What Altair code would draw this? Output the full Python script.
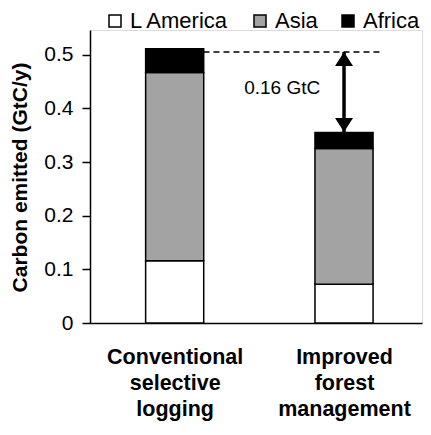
import altair as alt
import pandas as pd

# ---- data ----
categories = ["Conventional selective logging", "Improved forest management"]
cat_lines = [["Conventional", "selective", "logging"], ["Improved", "forest", "management"]]
cat_pos = [1, 3]
regions = ["L America", "Asia", "Africa"]
lam_values = [0.116, 0.072]
asia_values = [0.351, 0.253]
africa_values = [0.044, 0.030]
region_colors = ["#ffffff", "#a3a3a3", "#000000"]
y_ticks = [0, 0.1, 0.2, 0.3, 0.4, 0.5]

# annotation (data units)
annot_text = "0.16 GtC"
dash_x = [1.34, 3.42]
dash_y = 0.505
arrow_x = 3
arrow_top = 0.505
arrow_bottom = 0.356
text_x = 2.27
text_y = 0.437

HALF = 0.343
FONT = "Liberation Sans"
PLOT_W = 332
PLOT_H = 293
Y_MAX = 0.546

rows = []
series = [lam_values, asia_values, africa_values]
for ci, cat in enumerate(categories):
    for ri, reg in enumerate(regions):
        rows.append({
            "cat": cat,
            "region": reg,
            "order": ri,
            "value": series[ri][ci],
            "left": cat_pos[ci] - HALF,
            "right": cat_pos[ci] + HALF,
        })
df = pd.DataFrame(rows)

xscale = alt.Scale(domain=[0, 3.921], nice=False, zero=False)
yscale = alt.Scale(domain=[0, Y_MAX], nice=False)

label_expr = " : ".join(
    f"datum.value == {p} ? {l!r}" for p, l in zip(cat_pos, cat_lines)
) + " : ''"

bars = alt.Chart(df).transform_stack(
    stack="value", groupby=["cat"], as_=["y0", "y1"],
    sort=[alt.SortField("order", order="ascending")]
).mark_bar(stroke="black", strokeWidth=1.5).encode(
    x=alt.X("left:Q", scale=xscale, axis=alt.Axis(
        values=cat_pos, labelExpr=label_expr, ticks=False, grid=False, title=None,
        labelFont=FONT, labelFontSize=21.5, labelFontWeight="bold", labelColor="black",
        labelLineHeight=26, labelPadding=40, labelBaseline="alphabetic",
        domainColor="black", domainWidth=1.5, labelFlush=False)),
    x2="right:Q",
    y=alt.Y("y0:Q", scale=yscale, axis=alt.Axis(
        values=y_ticks, format=".1~f", grid=False, tickSize=8, tickColor="black",
        tickWidth=1.5, domainColor="black", domainWidth=1.5, labelPadding=9,
        labelFont=FONT, labelFontSize=21, labelColor="black",
        title="Carbon emitted (GtC/y)", titleFont=FONT, titleFontSize=21,
        titleFontWeight="bold", titleColor="black", titleX=-70, titleY=147,
        titleAlign="center", titleBaseline="middle")),
    y2="y1:Q",
    fill=alt.Fill("region:N", scale=alt.Scale(domain=regions, range=region_colors),
                  legend=alt.Legend(
                      title=None, orient="none", direction="horizontal",
                      legendX=14, legendY=-20, padding=0,
                      symbolType="square", symbolSize=144, symbolStrokeColor="black",
                      symbolStrokeWidth=1.5, labelFont=FONT, labelFontSize=22,
                      labelColor="black", labelOffset=4, columnPadding=19)),
)

dash_df = pd.DataFrame({"x": [dash_x[0]], "x2": [dash_x[1]], "y": [dash_y]})
dash = alt.Chart(dash_df).mark_rule(color="black", strokeWidth=1.5, strokeDash=[6, 4]).encode(
    x=alt.X("x:Q", scale=xscale), x2="x2:Q", y=alt.Y("y:Q", scale=yscale))

arrow_df = pd.DataFrame({"x": [arrow_x], "y": [arrow_top], "y2": [arrow_bottom]})
shaft = alt.Chart(arrow_df).mark_rule(color="black", strokeWidth=3.5).encode(
    x=alt.X("x:Q", scale=xscale), y=alt.Y("y:Q", scale=yscale), y2="y2:Q")

head_off = 7 * Y_MAX / PLOT_H
up_df = pd.DataFrame({"x": [arrow_x], "y": [arrow_top - head_off]})
down_df = pd.DataFrame({"x": [arrow_x], "y": [arrow_bottom + head_off]})
head_up = alt.Chart(up_df).mark_point(
    shape="M0,-0.78L1,0.78L-1,0.78Z", size=324, filled=True, color="black", opacity=1
).encode(x=alt.X("x:Q", scale=xscale), y=alt.Y("y:Q", scale=yscale))
head_down = alt.Chart(down_df).mark_point(
    shape="M0,0.78L1,-0.78L-1,-0.78Z", size=324, filled=True, color="black", opacity=1
).encode(x=alt.X("x:Q", scale=xscale), y=alt.Y("y:Q", scale=yscale))

text_df = pd.DataFrame({"x": [text_x], "y": [text_y], "t": [annot_text]})
label = alt.Chart(text_df).mark_text(
    font=FONT, fontSize=19, color="black", align="center", baseline="middle"
).encode(x=alt.X("x:Q", scale=xscale), y=alt.Y("y:Q", scale=yscale), text="t:N")

chart = alt.layer(bars, dash, shaft, head_up, head_down, label).properties(
    width=PLOT_W, height=PLOT_H,
    autosize=alt.AutoSizeParams(type="none"),
    padding={"left": 82, "top": 22, "right": 1, "bottom": 99},
).configure_view(stroke="black", strokeWidth=1.5).configure(background="white")

chart.save("out.html", embed_options={"renderer": "svg", "actions": False})
